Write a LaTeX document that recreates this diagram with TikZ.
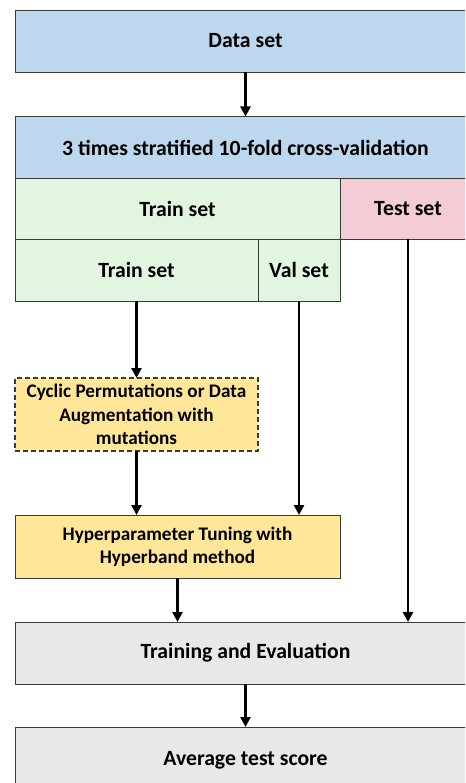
\documentclass[tikz,border=0pt]{standalone}
\usepackage{fontspec}
\setmainfont{Carlito}
\usetikzlibrary{arrows.meta}
\definecolor{cblue}{HTML}{BDD7EE}
\definecolor{cgreen}{HTML}{E2F5E0}
\definecolor{cpink}{HTML}{F4CCD5}
\definecolor{cyellow}{HTML}{FFE699}
\definecolor{cgray}{HTML}{E8E8E8}
\definecolor{cborder}{HTML}{3A3A3A}
\tikzset{
  box/.style={draw=cborder, line width=0.9pt, rectangle, outer sep=0pt, inner sep=2pt, align=center,
    font=\fontsize{21.7}{23.4}\selectfont\bfseries},
  smalltext/.style={font=\fontsize{19.2}{23.3}\selectfont\bfseries},
  arr/.style={line width=2.6pt, -{Triangle[length=10pt,width=10pt]}, black}
}
\begin{document}
\begin{tikzpicture}[x=1pt,y=-1pt]
\useasboundingbox (0,0) rectangle (465,783);
\clip (0,0) rectangle (465,783);
\node[box, fill=cblue, minimum width=461pt, minimum height=62pt] (data) at (245.5,41) {Data set};
\node[box, fill=cblue, minimum width=461pt, minimum height=62pt] (cv) at (245.5,147.5) {3 times stratified 10-fold cross-validation};
\node[box, fill=cgreen, minimum width=325pt, minimum height=61pt] (trainA) at (177.5,208.5) {Train set};
\node[box, fill=cpink, minimum width=136pt, minimum height=61pt] (test) at (408,208.5) {Test set};
\node[box, fill=cgreen, minimum width=243pt, minimum height=62pt] (trainB) at (136.5,270) {Train set};
\node[box, fill=cgreen, minimum width=82pt, minimum height=62pt] (val) at (299,270) {Val set};
\node[box, smalltext, fill=cyellow, dash pattern=on 5pt off 3pt, line width=1.4pt, minimum width=243pt, minimum height=73pt] (cyc) at (136.5,414.5) {Cyclic Permutations or Data\\Augmentation with\\mutations};
\node[box, smalltext, fill=cyellow, minimum width=325pt, minimum height=63pt] (hyp) at (177.5,546.5) {Hyperparameter Tuning with\\Hyperband method};
\node[box, fill=cgray, minimum width=461pt, minimum height=62pt] (te) at (245.5,653) {Training and Evaluation};
\node[box, fill=cgray, minimum width=461pt, minimum height=66pt] (avg) at (245.5,760) {Average test score};
\draw[arr] (data) -- (cv);
\draw[arr] (trainB.south) -- (cyc.north);
\draw[arr] (cyc.south) -- (cyc.south |- hyp.north);
\draw[arr] (val.south) -- (val.south |- hyp.north);
\draw[arr] (test.south) -- (test.south |- te.north);
\draw[arr] (hyp.south) -- (hyp.south |- te.north);
\draw[arr] (te) -- (avg);
\end{tikzpicture}
\end{document}
